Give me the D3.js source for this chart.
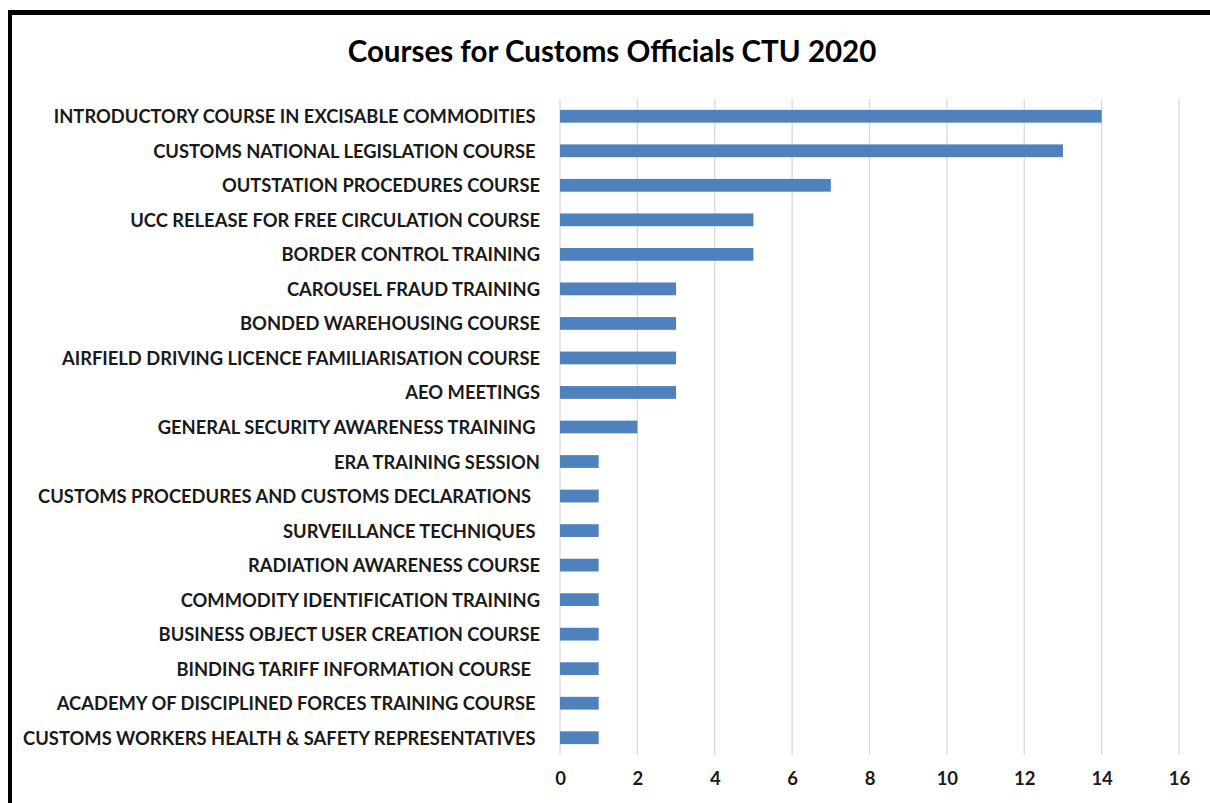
<!DOCTYPE html>
<html><head><meta charset="utf-8">
<script src="https://cdn.jsdelivr.net/npm/d3@7"></script>
<style>html,body{margin:0;padding:0;background:#fff;}svg{display:block;} .lbl{white-space:pre;}</style>
</head><body>
<script>
const categories = [
"INTRODUCTORY COURSE IN EXCISABLE COMMODITIES ",
"CUSTOMS NATIONAL LEGISLATION COURSE ",
"OUTSTATION PROCEDURES COURSE",
"UCC RELEASE FOR FREE CIRCULATION COURSE",
"BORDER CONTROL TRAINING",
"CAROUSEL FRAUD TRAINING",
"BONDED WAREHOUSING COURSE",
"AIRFIELD DRIVING LICENCE FAMILIARISATION COURSE",
"AEO MEETINGS",
"GENERAL SECURITY AWARENESS TRAINING ",
"ERA TRAINING SESSION",
"CUSTOMS PROCEDURES AND CUSTOMS DECLARATIONS  ",
"SURVEILLANCE TECHNIQUES ",
"RADIATION AWARENESS COURSE",
"COMMODITY IDENTIFICATION TRAINING",
"BUSINESS OBJECT USER CREATION COURSE",
"BINDING TARIFF INFORMATION COURSE  ",
"ACADEMY OF DISCIPLINED FORCES TRAINING COURSE ",
"CUSTOMS WORKERS HEALTH & SAFETY REPRESENTATIVES "
];
const values = [14,13,7,5,5,3,3,3,3,2,1,1,1,1,1,1,1,1,1];
const xTicks = [0,2,4,6,8,10,12,14,16];
const title = "Courses for Customs Officials CTU 2020";

const W = 1210, H = 803;
const svg = d3.select("body").append("svg").attr("width", W).attr("height", H);
const font = "Lato, 'Open Sans', sans-serif";

// frame
svg.append("rect").attr("x",8).attr("y",10).attr("width",W).attr("height",5).attr("fill","#000");
svg.append("rect").attr("x",8).attr("y",10).attr("width",4).attr("height",H).attr("fill","#000");

const x = d3.scaleLinear().domain([0,16]).range([560,1179]);
const y = d3.scaleBand().domain(categories).range([99,755]).paddingInner(0.63).paddingOuter(0.315);

// gridlines
svg.append("g").selectAll("line").data(xTicks).join("line")
  .attr("x1", d=>x(d)).attr("x2", d=>x(d))
  .attr("y1", 99).attr("y2", 755)
  .attr("stroke", "#d9d9d9").attr("stroke-width", 1.3);

// bars
svg.append("g").selectAll("rect").data(values).join("rect")
  .attr("x", x(0)).attr("y", (d,i)=>y(categories[i]))
  .attr("width", d=>x(d)-x(0)).attr("height", y.bandwidth())
  .attr("fill", "#4F81BD");

// category labels
svg.append("g").selectAll("text").data(categories).join("text")
  .attr("class","lbl")
  .attr("x", 540).attr("y", d=>y(d)+y.bandwidth()/2)
  .attr("text-anchor","end").attr("dominant-baseline","central")
  .attr("font-family", font).attr("font-weight","bold").attr("font-size", 18.35)
  .attr("fill","#1a1a1a").text(d=>d);

// x tick labels
const xAxis = d3.axisBottom(x).tickValues(xTicks).tickSize(0).tickPadding(0);
const gx = svg.append("g").attr("transform","translate(0,772)").call(xAxis);
gx.select(".domain").remove();
gx.selectAll("text").attr("font-family", font).attr("font-weight","bold")
  .attr("font-size",18.5).attr("fill","#1a1a1a");

// title
svg.append("text").attr("x", 612).attr("y", 62).attr("text-anchor","middle")
  .attr("font-family", font).attr("font-weight","bold").attr("font-size", 29.5)
  .attr("fill","#000").text(title);
</script>
</body></html>
